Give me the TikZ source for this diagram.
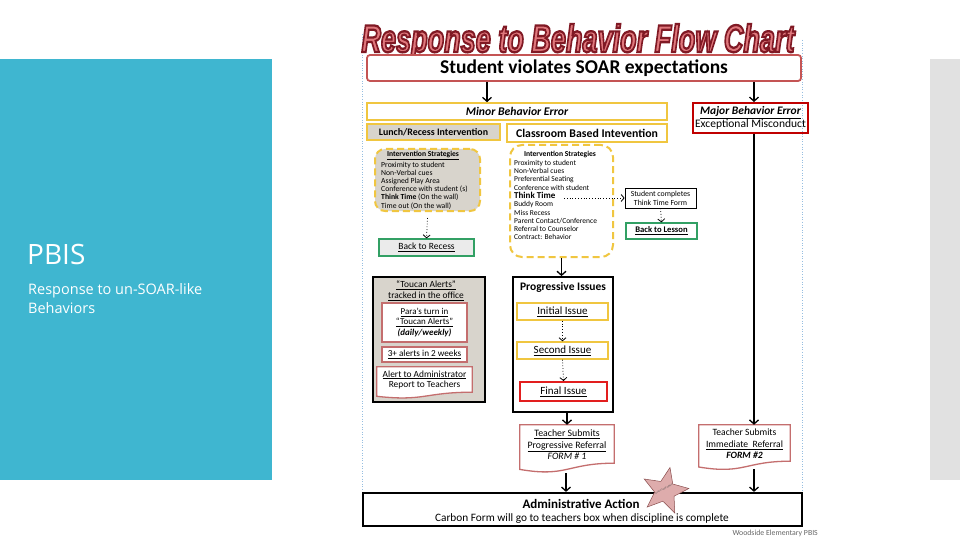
\documentclass[tikz,border=0pt]{standalone}
\usepackage{fontspec}
\setmainfont{Carlito}
\newfontfamily\osans{Open Sans}
\newfontfamily\ttlfont{Liberation Sans}
\usepackage{graphicx}
\usetikzlibrary{arrows.meta,shapes.geometric,calc}

\definecolor{panelblue}{RGB}{63,182,208}
\definecolor{bargray}{RGB}{225,225,225}
\definecolor{ybord}{RGB}{240,198,64}
\definecolor{rbord}{RGB}{196,84,84}
\definecolor{dred}{RGB}{192,0,0}
\definecolor{fred}{RGB}{226,30,30}
\definecolor{rose}{RGB}{196,110,110}
\definecolor{gbord}{RGB}{50,160,100}
\definecolor{boxgray}{RGB}{216,212,204}
\definecolor{guide}{RGB}{150,190,225}
\definecolor{starpink}{RGB}{222,172,172}
\definecolor{titlered}{RGB}{218,105,110}

\newcommand\fsz[2]{\fontsize{#1}{#2}\selectfont}
\newcommand\outlinedtext[1]{\special{pdf:literal direct q 2 Tr 0.6 w 0.50 0.10 0.14 RG 0.88 0.47 0.49 rg}#1\special{pdf:literal direct Q}}
\newcommand\docwave[3]{%
  \draw[#3] (#1.north west) -- (#1.north east) -- (#1.south east)
    .. controls (#1.south) and ($(#1.south)+(0,0.305*#2)$) ..
    ($(#1.south west)+(0,0.132*#2)$) -- cycle;}

\tikzset{
  plain/.style={inner sep=0pt, align=center},
  ybox/.style={draw=ybord, line width=1.6pt, inner sep=0pt, align=center},
  rosebox/.style={draw=rose, line width=1.3pt, fill=white, inner sep=0pt, align=center},
  gbox/.style={draw=gbord, line width=1.2pt, inner sep=0pt, align=center},
  dashbox/.style={draw=ybord, line width=2pt, dash pattern=on 7pt off 4pt, rounded corners=10pt, inner sep=0pt},
  docbody/.style={inner sep=0pt, draw=none},
  docline/.style={draw=rose, line width=1.3pt, fill=white},
  arr/.style={line width=1.3pt, -{Straight Barb[length=4pt,width=9pt]}},
  darr/.style={line width=0.8pt, dotted, -{Straight Barb[length=3pt,width=7pt]}},
  lst/.style={inner sep=0pt, align=left, anchor=north west}
}

\begin{document}
\begin{tikzpicture}[x=1pt,y=-1pt]
\useasboundingbox (0,0) rectangle (960,540);
\fill[white] (0,0) rectangle (960,540);
\fill[panelblue] (0,59) rectangle (272,480);
\fill[bargray] (930,59) rectangle (960,480);

% left panel text
\node[anchor=base west, inner sep=0pt, text=white, font=\osans\fsz{28}{28}] (pbis) at (27,264) {PBIS};
\node[anchor=base west, inner sep=0pt, text=white, font=\osans\fsz{14.5}{16}] (sub1) at (28,294) {Response to un-SOAR-like};
\node[anchor=base west, inner sep=0pt, text=white, font=\osans\fsz{14.5}{16}] (sub2) at (28,313) {Behaviors};

% guide lines
\draw[guide, dotted, line width=0.6pt] (362,34) -- (362,492);
\draw[guide, dotted, line width=0.6pt] (802,40) -- (802,490);

% title
\node[anchor=base, inner sep=0pt] (title) at (578,52)
  {\resizebox{433pt}{28pt}{\ttlfont\bfseries\itshape\textcolor{titlered}{\outlinedtext{Response to Behavior Flow Chart}}}};

% top box
\node[draw=rbord, line width=1.8pt, rounded corners=3pt, fill=white, minimum width=434pt, minimum height=26pt, plain,
  font=\bfseries\fsz{19.5}{20}] (top) at (584,68) {Student violates SOAR expectations};

\coordinate (lx) at (487,0);
\coordinate (mx) at (754,0);

% minor / major
\node[ybox, minimum width=300pt, minimum height=17pt, font=\bfseries\itshape\fsz{11.7}{12}] (minor) at (517,111.5) {Minor Behavior Error};
\node[draw=dred, line width=2pt, minimum width=115pt, minimum height=30pt, plain, font=\fsz{11.5}{12.5}] (major) at (750.5,118)
  {\textbf{\textit{\underline{Major Behavior Error}}}\\Exceptional Misconduct};
\draw[arr] (top.south -| lx) -- (minor.north -| lx);
\draw[arr] (top.south -| mx) -- (major.north -| mx);

% lunch / classroom
\node[ybox, fill=boxgray, line width=1.4pt, minimum width=133pt, minimum height=16pt, font=\bfseries\fsz{9.9}{10}] (lunch) at (433.5,132) {Lunch/Recess Intervention};
\node[ybox, line width=1.4pt, minimum width=160pt, minimum height=18pt, font=\bfseries\fsz{11.8}{12}] (class) at (587,133) {Classroom Based Intevention};

% left strategies
\node[dashbox, fill=boxgray, minimum width=105pt, minimum height=62pt] (lstrat) at (427.5,180) {};
\node[plain, font=\bfseries\fsz{7.6}{8}] (lhead) at (423,155.5) {\underline{Intervention Strategies}};
\node[lst, font=\fsz{7.7}{8.1}] (llist) at (381,162) {Proximity to student\\Non-Verbal cues\\Assigned Play Area\\Conference with student (s)\\\textbf{Think Time} (On the wall)\\Time out (On the wall)};
\node[gbox, fill=black!8, minimum width=95pt, minimum height=17pt, font=\fsz{9.5}{10}] (recess) at (426.5,247.5) {\underline{Back to Recess}};
\draw[darr] ([yshift=-6pt]lstrat.south) -- (recess.north);

% right strategies
\node[dashbox, fill=white, rounded corners=12pt, minimum width=103pt, minimum height=112pt] (rstrat) at (561.5,201) {};
\node[plain, font=\bfseries\fsz{7.6}{8}] (rhead) at (560,154) {Intervention Strategies};
\node[lst, font=\fsz{7.5}{8.3}] (rlist) at (514,159.8) {Proximity to student\\Non-Verbal cues\\Preferential Seating\\Conference with student\\{\bfseries\fsz{9}{8.3}Think Time}\\Buddy Room\\Miss Recess\\Parent Contact/Conference\\Referral to Counselor\\Contract: Behavior};
\coordinate (tt) at (564,198);

\node[draw, line width=0.8pt, minimum width=71pt, minimum height=20pt, plain, fill=white, font=\fsz{7.8}{9}] (form) at (660.5,198) {Student completes\\Think Time Form};
\node[gbox, minimum width=71pt, minimum height=16pt, fill=white, font=\bfseries\fsz{8.6}{9}] (lesson) at (661.5,231) {\underline{Back to Lesson}};
\draw[darr] (tt) -- (form.west |- tt);
\draw[darr] (form.south) -- (lesson.north);

% toucan
\node[draw, line width=1.8pt, fill=boxgray, minimum width=112pt, minimum height=125pt] (toucan) at (429,339.5) {};
\node[plain, font=\fsz{9.4}{10.8}] (thead) at (426,290.5) {\underline{“Toucan Alerts”}\\\underline{tracked in the office}};
\node[rosebox, minimum width=85pt, minimum height=39pt, font=\fsz{9}{10.2}] (para) at (424.5,322.5)
  {\underline{Para’s turn in}\\\underline{“Toucan Alerts”}\\\textbf{\textit{(daily/weekly)}}};
\node[rosebox, minimum width=85pt, minimum height=15pt, font=\fsz{9.2}{10}] (three) at (424.5,354.5) {\underline{3+ alerts in 2 weeks}};
\node[docbody, minimum width=95pt, minimum height=25pt] (alert) at (424.5,379.5) {};
\docwave{alert}{31}{docline}
\node[plain, font=\fsz{9.4}{10}] (alerttxt) at (alert) {\underline{Alert to Administrator}\\Report to Teachers};

% progressive
\node[draw, line width=1.8pt, fill=white, minimum width=100pt, minimum height=135pt] (prog) at (563,344.5) {};
\draw[arr] (rstrat.south) -- (prog.north -| rstrat.south);
\node[plain, font=\bfseries\fsz{11.5}{12}] (proghead) at (563,287) {Progressive Issues};
\node[ybox, line width=1.5pt, minimum width=91pt, minimum height=17pt, font=\fsz{11}{11}] (init) at (562.5,311.5) {\underline{Initial Issue}};
\node[ybox, line width=1.5pt, minimum width=91pt, minimum height=17pt, font=\fsz{11}{11}] (second) at (562.5,350.5) {\underline{Second Issue}};
\node[draw=fred, line width=2pt, minimum width=87pt, minimum height=19pt, plain, font=\fsz{11}{11}] (final) at (563.5,391.5) {\underline{Final Issue}};
\draw[darr] (init.south) -- (second.north);
\draw[darr] (second.south) -- (final.north);

% referral forms
\node[docbody, minimum width=94pt, minimum height=38pt] (pref) at (567,444) {};
\docwave{pref}{47}{docline}
\node[plain, font=\fsz{9.8}{11.5}] (preftxt) at (567,445) {\underline{Teacher Submits}\\\underline{Progressive Referral}\\\textit{FORM \# 1}};
\node[docbody, minimum width=91pt, minimum height=36pt] (iref) at (744.5,443) {};
\docwave{iref}{44}{docline}
\node[plain, font=\fsz{9.6}{11.5}] (ireftxt) at (744.5,444) {Teacher Submits\\\underline{Immediate\ \ Referral}\\\textbf{\textit{FORM \#2}}};
\draw[arr] (prog.south -| pref) -- (pref.north);
\draw[arr] (major.south -| mx) -- (iref.north -| mx);

% admin
\node[draw, line width=2.2pt, fill=white, minimum width=439pt, minimum height=33pt] (admin) at (582.5,509.5) {};
\node[plain, font=\bfseries\fsz{13}{14}] (admtitle) at (581,503.5) {Administrative Action};
\node[plain, font=\fsz{11.3}{12}] (admsub) at (582,518.5) {Carbon Form will go to teachers box when discipline is complete};
\coordinate (px) at (566,0);
\draw[arr] ([yshift=-10pt]pref.south -| px) -- (admin.north -| px);
\draw[arr] ([yshift=-8pt]iref.south -| mx) -- (admin.north -| mx);

% star
\node[star, star points=5, star point ratio=2.3, minimum size=48pt, inner sep=0pt, fill=starpink, draw=rose!70!black, line width=0.5pt, rotate=-12] (star) at (665,491) {};
\node[plain, font=\fsz{2.6}{3}, rotate=28, text=black!70] (startxt) at (664,489) {Green Copy Office};

% footer
\node[anchor=base east, inner sep=0pt, font=\fsz{7.8}{8}, text=black!60] (foot) at (818,535) {Woodside Elementary PBIS};
\end{tikzpicture}
\end{document}
